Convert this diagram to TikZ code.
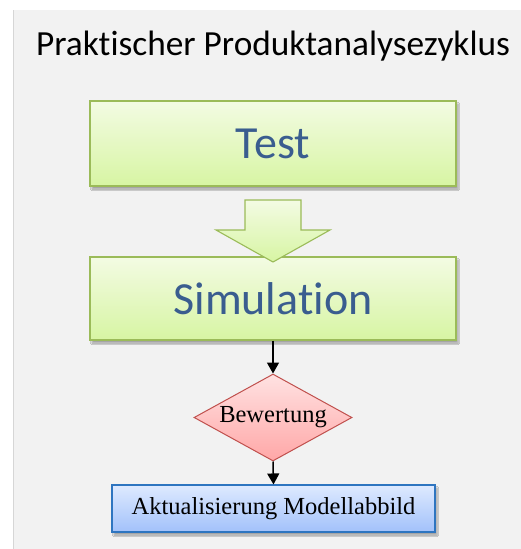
\documentclass[tikz,border=0pt]{standalone}
\usepackage{fontspec}
\newfontfamily\carlito[Ligatures=NoCommon]{Carlito}
\newfontfamily\boxserif{Liberation Serif}
\usetikzlibrary{shapes.geometric,arrows.meta,shadows.blur}
\definecolor{panel}{HTML}{F2F2F2}
\definecolor{panelline}{HTML}{D6D6D6}
\definecolor{gtop}{HTML}{F3FBE3}
\definecolor{gbot}{HTML}{D7F5A3}
\definecolor{gborder}{HTML}{9BBB59}
\definecolor{ttext}{HTML}{3A5D8F}
\definecolor{rtop}{HTML}{FFE2E2}
\definecolor{rbot}{HTML}{FFA7A7}
\definecolor{rborder}{HTML}{C0504D}
\definecolor{btop}{HTML}{DEEAFF}
\definecolor{bbot}{HTML}{A2C1FA}
\definecolor{bborder}{HTML}{2E75C0}
\tikzset{
  greenbox/.style={draw=gborder, line width=1.1pt, top color=gtop, bottom color=gbot,
    blur shadow={shadow xshift=2pt, shadow yshift=-3pt, shadow blur steps=6, shadow opacity=35},
    minimum width=366pt, inner sep=0pt, text=ttext, font=\carlito\fontsize{46}{50}\selectfont},
  decision/.style={diamond, draw=rborder, line width=1pt, top color=rtop, bottom color=rbot,
    minimum width=158pt, minimum height=87pt, aspect=1.82, inner sep=0pt,
    font=\boxserif\fontsize{24.5}{28}\selectfont},
  bluebox/.style={draw=bborder, line width=1.1pt, top color=btop, bottom color=bbot,
    blur shadow={shadow xshift=2pt, shadow yshift=-3pt, shadow blur steps=6, shadow opacity=35},
    minimum width=323pt, minimum height=47pt, inner sep=0pt, font=\boxserif\fontsize{24.5}{28}\selectfont},
  arr/.style={line width=1.5pt, -{Triangle[width=12pt,length=11pt]}},
  blockarrow/.style={draw=gborder, line width=1.1pt, top color=gtop, bottom color=gbot}
}
\begin{document}
\begin{tikzpicture}[x=1pt,y=-1pt]
\useasboundingbox (0,0) rectangle (521,549);
\fill[panel] (13,10) rectangle (521,549);
\draw[panelline, line width=1.5pt] (13.5,10) -- (13.5,549);
\node[font=\carlito\fontsize{35.3}{38}\selectfont, anchor=base] (title) at (273,55) {Praktischer Produktanalysezyklus};
\node[greenbox, minimum height=85pt] (test) at (273,143.5) {Test};
\node[greenbox, minimum height=83pt] (sim) at (273,298.5) {Simulation};
\node[decision] (bew) at (273,417.5) {Bewertung};
\node[bluebox] (akt) at (273.5,508.5) {Aktualisierung Modellabbild};
\draw[blockarrow] (245,200) -- (301,200) -- (301,230) -- (330,230) -- (273,262) -- (216,230) -- (245,230) -- cycle;
\draw[arr] (sim.south) -- (bew.north);
\draw[arr] (bew.south) -- (akt.north);
\end{tikzpicture}
\end{document}
